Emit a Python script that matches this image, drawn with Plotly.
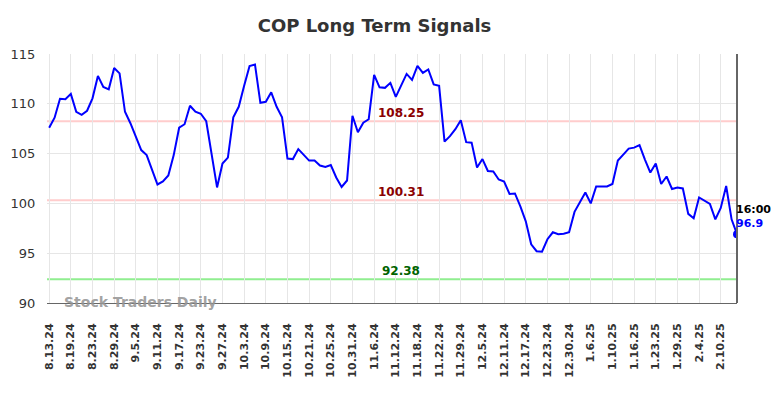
import plotly.graph_objects as go

dates = [
    "8.13.24","8.14.24","8.15.24","8.16.24","8.19.24","8.20.24","8.21.24","8.22.24","8.23.24",
    "8.26.24","8.27.24","8.28.24","8.29.24","8.30.24",
    "9.3.24","9.4.24","9.5.24","9.6.24","9.9.24","9.10.24","9.11.24","9.12.24","9.13.24",
    "9.16.24","9.17.24","9.18.24","9.19.24","9.20.24","9.23.24","9.24.24","9.25.24","9.26.24","9.27.24","9.30.24",
    "10.1.24","10.2.24","10.3.24","10.4.24","10.7.24","10.8.24","10.9.24","10.10.24","10.11.24",
    "10.14.24","10.15.24","10.16.24","10.17.24","10.18.24","10.21.24","10.22.24","10.23.24","10.24.24","10.25.24",
    "10.28.24","10.29.24","10.30.24","10.31.24",
    "11.1.24","11.4.24","11.5.24","11.6.24","11.7.24","11.8.24","11.11.24","11.12.24","11.13.24","11.14.24","11.15.24",
    "11.18.24","11.19.24","11.20.24","11.21.24","11.22.24","11.25.24","11.26.24","11.27.24","11.29.24",
    "12.2.24","12.3.24","12.4.24","12.5.24","12.6.24","12.9.24","12.10.24","12.11.24","12.12.24","12.13.24",
    "12.16.24","12.17.24","12.18.24","12.19.24","12.20.24","12.23.24","12.24.24","12.26.24","12.27.24","12.30.24","12.31.24",
    "1.2.25","1.3.25","1.6.25","1.7.25","1.8.25","1.9.25","1.10.25","1.13.25","1.14.25","1.15.25","1.16.25","1.17.25",
    "1.21.25","1.22.25","1.23.25","1.24.25","1.27.25","1.28.25","1.29.25","1.30.25","1.31.25",
    "2.3.25","2.4.25","2.5.25","2.6.25","2.7.25","2.10.25","2.11.25","2.12.25","2.13.25",
]

prices = [
    107.6,108.6,110.5,110.45,111.0,109.2,108.9,109.3,110.55,112.8,
    111.7,111.45,113.6,113.05,109.2,108.05,106.7,105.35,104.85,103.35,
    101.9,102.2,102.8,104.85,107.6,107.95,109.8,109.2,109.0,108.25,
    105.0,101.6,104.0,104.6,108.65,109.7,111.8,113.8,113.95,110.1,
    110.2,111.15,109.7,108.65,104.5,104.45,105.45,104.9,104.3,104.3,
    103.8,103.65,103.85,102.6,101.65,102.3,108.8,107.15,108.1,108.45,
    112.9,111.65,111.6,112.1,110.7,111.85,113.0,112.4,113.8,113.1,
    113.45,111.95,111.8,106.2,106.75,107.45,108.35,106.15,106.1,103.6,
    104.45,103.25,103.2,102.4,102.2,100.95,101.0,99.7,98.2,95.9,
    95.2,95.15,96.4,97.1,96.9,96.95,97.1,99.15,100.1,101.1,
    100.0,101.7,101.7,101.7,101.95,104.3,104.9,105.5,105.6,105.85,
    104.4,103.1,104.0,101.95,102.7,101.45,101.6,101.5,98.95,98.5,
    100.6,100.25,99.95,98.4,99.55,101.75,98.4,96.9,
]

tick_labels = dates[::4]

levels = [108.25, 100.31, 92.38]
level_line_colors = ["#ffcccc", "#ffcccc", "#90ee90"]
level_text_colors = ["#8b0000", "#8b0000", "#006400"]

last_time = "16:00"
last_price_label = "96.9"

FONT = "DejaVu Sans"

fig = go.Figure()

for lv, lc in zip(levels, level_line_colors):
    fig.add_hline(y=lv, line=dict(color=lc, width=2), layer="below")

fig.add_trace(go.Scatter(
    x=dates, y=prices, mode="lines",
    line=dict(color="#0000ff", width=2), showlegend=False,
))
fig.add_trace(go.Scatter(
    x=[dates[-1]], y=[prices[-1]], mode="markers",
    marker=dict(color="#0000ff", size=8), showlegend=False,
))

for lv, tc in zip(levels, level_text_colors):
    fig.add_annotation(
        x=65, y=lv, xref="x", yref="y", text=f"<b>{lv:.2f}</b>",
        showarrow=False, yshift=8, xshift=0, font=dict(family=FONT, size=12, color=tc),
    )

fig.add_annotation(
    x=dates[-1], y=prices[-1], xref="x", yref="y", text=f"<b>{last_time}</b>",
    showarrow=False, xanchor="left", xshift=-3, yshift=25,
    font=dict(family=FONT, size=11, color="#000000"),
)
fig.add_annotation(
    x=dates[-1], y=prices[-1], xref="x", yref="y", text=f"<b>{last_price_label}</b>",
    showarrow=False, xanchor="left", xshift=-3, yshift=11,
    font=dict(family=FONT, size=11, color="#0000ff"),
)
fig.add_annotation(
    xref="paper", yref="paper", x=(62 - 47) / 690, y=(303 - 302) / 249,
    text="<b>Stock Traders Daily</b>",
    showarrow=False, xanchor="left", yanchor="middle",
    font=dict(family=FONT, size=14, color="rgba(150,150,150,0.9)"),
)

fig.add_shape(type="line", xref="paper", yref="paper", x0=1, x1=1, y0=0, y1=1,
              line=dict(color="#666666", width=2))

fig.update_layout(
    width=784, height=398,
    margin=dict(l=47, r=47, t=54, b=95),
    paper_bgcolor="white", plot_bgcolor="white",
    title=dict(text="<b>COP Long Term Signals</b>", x=374.5 / 784, xanchor="center",
               y=1 - 26 / 398, yanchor="middle",
               font=dict(family=FONT, size=18, color="#333333")),
    font=dict(family=FONT, color="#333333"),
)
fig.update_xaxes(
    type="category", categoryorder="array", categoryarray=dates,
    range=[-0.4, len(dates) - 1],
    tickmode="array", tickvals=tick_labels, ticktext=[f"<b>{t}</b>" for t in tick_labels],
    tickangle=-90, tickfont=dict(family=FONT, size=11, color="#333333"),
    showgrid=True, gridcolor="#e6e6e6", gridwidth=1,
    showline=True, linecolor="#666666", linewidth=1,
    ticks="outside", ticklen=15, tickcolor="rgba(0,0,0,0)",
    zeroline=False,
)
fig.update_yaxes(
    range=[90, 115], tickvals=[90, 95, 100, 105, 110, 115],
    tickfont=dict(family=FONT, size=13, color="#333333"),
    showgrid=True, gridcolor="#e6e6e6", gridwidth=1,
    ticks="outside", ticklen=8, tickcolor="rgba(0,0,0,0)",
    zeroline=False, showline=False,
)

fig.write_html("out.html", config={"displayModeBar": False},
               post_script="document.body.style.margin='0';document.body.style.padding='0';")
